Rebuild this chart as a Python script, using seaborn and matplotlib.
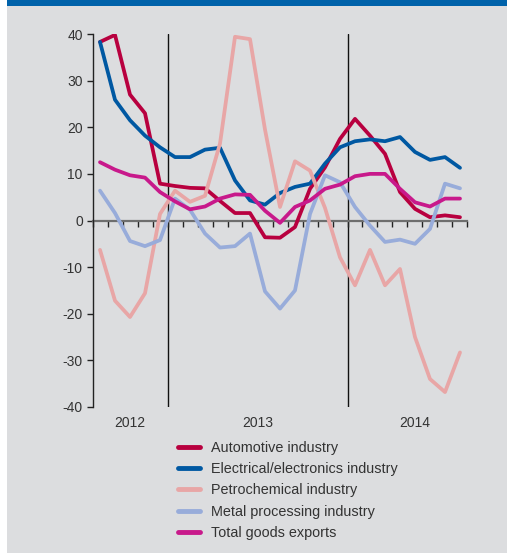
import numpy as np
import pandas as pd
import matplotlib
matplotlib.use("Agg")
import matplotlib.pyplot as plt
import seaborn as sns
from matplotlib.patches import Rectangle

# Monthly data, Aug 2012 - Aug 2014 (% change)
months = pd.period_range("2012-08", "2014-08", freq="M").astype(str).tolist()
automotive = [38.3, 39.8, 27.0, 23.0, 7.9, 7.4, 7.0, 6.9, 4.2, 1.6, 1.6, -3.6, -3.7,
              -1.4, 6.8, 11.4, 17.5, 21.8, 18.2, 14.3, 6.1, 2.5, 0.7, 1.1, 0.7]
electrical = [38.3, 25.9, 21.5, 18.2, 15.7, 13.6, 13.6, 15.2, 15.6, 8.6, 4.3, 3.4, 5.9,
              7.2, 7.9, 12.2, 15.7, 17.0, 17.4, 17.0, 17.9, 14.7, 13.0, 13.6, 11.3]
petrochemical = [-6.3, -17.2, -20.7, -15.6, 1.4, 6.4, 4.0, 5.3, 16.5, 39.4, 38.9, 19.5, 2.9,
                 12.7, 10.7, 2.7, -7.9, -13.9, -6.3, -13.9, -10.4, -25.0, -34.0, -36.8, -28.3]
metal = [6.4, 1.6, -4.4, -5.5, -4.2, 4.7, 2.3, -2.8, -5.8, -5.5, -2.8, -15.2, -18.9,
         -15.0, 1.4, 9.7, 8.2, 2.9, -1.1, -4.6, -4.1, -5.0, -1.8, 7.9, 6.9]
total = [12.5, 10.9, 9.7, 9.2, 6.1, 4.1, 2.4, 3.0, 4.7, 5.6, 5.5, 2.1, -0.5,
         2.9, 4.3, 6.8, 7.7, 9.5, 10.0, 10.0, 6.8, 3.9, 3.0, 4.7, 4.7]

series_names = ["Automotive industry", "Electrical/electronics industry",
                "Petrochemical industry", "Metal processing industry", "Total goods exports"]
colors = ["#b8003f", "#0058a2", "#e8a6a6", "#98acda", "#c8198b"]
year_labels = ["2012", "2013", "2014"]

df = pd.DataFrame({"month": months, "pos": np.arange(len(months))})
for name, vals in zip(series_names, [automotive, electrical, petrochemical, metal, total]):
    df[name] = vals
long = df.melt(id_vars=["month", "pos"], var_name="series", value_name="value")

sns.set_style("white")
plt.rcParams["font.family"] = ["Liberation Sans", "DejaVu Sans"]
plt.rcParams["axes.unicode_minus"] = False

fig = plt.figure(figsize=(5.07, 5.53), dpi=100)
fig.patch.set_facecolor("white")
bg = "#dcdddf"
fig.patches.append(Rectangle((7 / 507, 0), 1, 1, transform=fig.transFigure,
                             facecolor=bg, edgecolor="none", zorder=-10))
fig.patches.append(Rectangle((7 / 507, (553 - 6) / 553), 1, 6 / 553, transform=fig.transFigure,
                             facecolor="#0062aa", edgecolor="none", zorder=-9))

ax = fig.add_axes([92.5 / 507, (553 - 407) / 553, 375 / 507, 373 / 553])
ax.set_facecolor("none")

sns.lineplot(data=long, x="pos", y="value", hue="series", hue_order=series_names,
             palette=colors, linewidth=2.7, ax=ax, legend=True)

ax.set_xlim(-0.5, len(months) - 0.5)
ax.set_ylim(-40, 40)
ax.set_yticks(np.arange(-40, 41, 10))
ax.set_xticks(np.arange(-0.5, len(months), 1))
ax.set_xticklabels([])
ax.set_xlabel("")
ax.set_ylabel("")

for s in ["top", "right"]:
    ax.spines[s].set_visible(False)
ax.spines["left"].set_color("#222222")
ax.spines["left"].set_linewidth(1.0)
ax.spines["bottom"].set_position(("data", 0))
ax.spines["bottom"].set_color("#6e6e6e")
ax.spines["bottom"].set_linewidth(1.6)
ax.spines["bottom"].set_zorder(1)

ax.tick_params(axis="y", direction="out", length=4, width=1, color="#222222",
               labelsize=10, labelcolor="#333333", pad=3, left=True)
ax.tick_params(axis="x", direction="out", length=4, width=1, color="#222222", bottom=True)

# year separators
for xv in [4.5, 16.5]:
    ax.axvline(xv, color="#111111", linewidth=1.0, zorder=0.5)

# year labels
for lab, xc in zip(year_labels, [2, 10.5, 21]):
    ax.text(xc, -0.025, lab, transform=ax.get_xaxis_transform(), ha="center", va="top",
            fontsize=10, color="#333333")

handles, labels = ax.get_legend_handles_labels()
ax.legend_.remove()
leg = fig.legend(handles, labels, loc="upper left", bbox_to_anchor=(178 / 507, 1 - 441 / 553),
                 frameon=False, fontsize=10.4, handlelength=1.5, handletextpad=0.8,
                 labelspacing=0.5, borderpad=0, borderaxespad=0)
for t in leg.get_texts():
    t.set_color("#333333")
for h in leg.legend_handles:
    h.set_linewidth(3.5)

fig.savefig("out.png", dpi=100, facecolor=fig.get_facecolor())
